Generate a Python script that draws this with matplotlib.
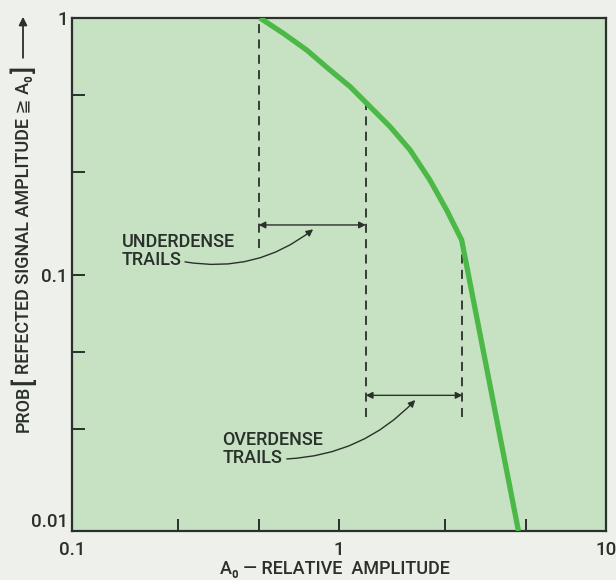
"""Meteor-trail reflection statistics: probability that the reflected
signal amplitude exceeds A0, on log-log axes, with the underdense and
overdense trail regions marked off by dashed guides."""

import matplotlib
matplotlib.use("Agg")
import matplotlib.pyplot as plt
from matplotlib.patches import FancyArrowPatch
from matplotlib.ticker import FixedLocator, NullFormatter

plt.rcParams["font.family"] = ["Roboto", "DejaVu Sans", "Noto Sans CJK SC"]
plt.rcParams["font.weight"] = "medium"

PAPER = "#eef0eb"
PLOT_BG = "#c7e2c3"
CURVE = "#4cb848"
INK = "#2a302b"

# Cumulative probability curve, read point by point
amp = [0.506, 0.618, 0.757, 0.925, 1.10, 1.27, 1.553, 1.845, 2.19, 2.53,
       2.88, 4.7]
prob = [1.0, 0.872, 0.750, 0.627, 0.540, 0.465, 0.377, 0.306, 0.2335,
        0.1784, 0.1363, 0.01]

# Region boundaries (A0) and where each dashed guide stops
bounds = [0.5, 1.26, 2.9]
guide_top = [1.0, 0.463, 0.134]
guide_bottom = [0.127, 0.0279, 0.0279]

under_span = (0.5, 1.26)
under_level = 0.156
over_span = (1.26, 2.9)
over_level = 0.0338

major_ticks = [0.1, 1, 10]
major_labels = ["0.1", "1", "10"]
x_minor = [0.25, 0.5, 2.5, 5]
y_major = [0.01, 0.1, 1]
y_major_labels = ["0.01", "0.1", "1"]
y_minor = [0.025, 0.05, 0.25, 0.5]

W, H = 616, 580
fig = plt.figure(figsize=(W / 100, H / 100), dpi=100)
fig.patch.set_facecolor(PAPER)
ax = fig.add_axes([72 / W, 1 - 531 / H, 534 / W, 513 / H])
ax.set_facecolor(PLOT_BG)
ax.set_xscale("log")
ax.set_yscale("log")
ax.set_xlim(0.1, 10)
ax.set_ylim(0.01, 1)

for s in ax.spines.values():
    s.set_color(INK)
    s.set_linewidth(1.6)

ax.xaxis.set_major_locator(FixedLocator(major_ticks))
ax.set_xticklabels(major_labels)
ax.xaxis.set_minor_locator(FixedLocator(x_minor))
ax.xaxis.set_minor_formatter(NullFormatter())
ax.yaxis.set_major_locator(FixedLocator(y_major))
ax.set_yticklabels(y_major_labels)
ax.yaxis.set_minor_locator(FixedLocator(y_minor))
ax.yaxis.set_minor_formatter(NullFormatter())
ax.tick_params(which="both", direction="in", length=9, width=1.4,
               color=INK, labelcolor=INK, labelsize=13.5, pad=3)
ax.tick_params(axis="x", pad=7)
# lift the bottom y label a touch so it clears the x-axis "0.1"
ax.get_yticklabels()[0].set_va("bottom")

# Dashed guides marking the trail regions
for xb, top, bot in zip(bounds, guide_top, guide_bottom):
    ax.plot([xb, xb], [bot, top], color=INK, lw=1.3,
            dashes=(5, 3.5), zorder=2)

ax.plot(amp, prob, color=CURVE, lw=3.8, solid_capstyle="butt",
        solid_joinstyle="round", zorder=3)

# Span arrows
span_style = dict(arrowstyle="<|-|>", color=INK, lw=1.0,
                  mutation_scale=10, shrinkA=0, shrinkB=0)
ax.annotate("", xy=(under_span[0], under_level),
            xytext=(under_span[1], under_level), arrowprops=span_style)
ax.annotate("", xy=(over_span[0], over_level),
            xytext=(over_span[1], over_level), arrowprops=span_style)

# Labels with curved leaders
label_kw = dict(fontsize=13, color=INK, ha="left", va="center",
                linespacing=1.0)
ax.text(0.154, 0.124, "UNDERDENSE\nTRAILS", **label_kw)
ax.text(0.365, 0.0209, "OVERDENSE\nTRAILS", **label_kw)

leader = dict(arrowstyle="-|>", color=INK, lw=1.0, mutation_scale=10,
              shrinkA=0, shrinkB=0)
ax.annotate("", xy=(0.80, 0.150), xytext=(0.265, 0.112),
            arrowprops=dict(leader, connectionstyle="arc3,rad=0.22"))
ax.annotate("", xy=(1.93, 0.0324), xytext=(0.638, 0.0191),
            arrowprops=dict(leader, connectionstyle="arc3,rad=0.2"))

# X axis title
fig.text(335 / W, 1 - 569 / H, "A\u2080 \u2014 RELATIVE  AMPLITUDE",
         fontsize=13, color=INK, ha="center", va="center")

# Y axis title, stacked piece by piece so the brackets can be oversized
renderer = fig.canvas.get_renderer()
pieces = [("PROB", 13, 0), ("[", 19, 1), ("REFECTED SIGNAL AMPLITUDE \u2267 A\u2080", 13, 2),
          ("]", 19, 1)]
y_px = H - 432
for text, size, gap in pieces:
    t = fig.text(24 / W, (y_px + gap) / H, text, rotation=90, fontsize=size,
                 color=INK, ha="center", va="bottom")
    y_px = t.get_window_extent(renderer).y1 + gap
fig.patches.append(FancyArrowPatch(
    (23 / W, (y_px + 4) / H), (23 / W, 1 - 14 / H), transform=fig.transFigure,
    arrowstyle="-|>", mutation_scale=12, color=INK, lw=1.3))

fig.savefig("out.png", dpi=100, facecolor=PAPER)
